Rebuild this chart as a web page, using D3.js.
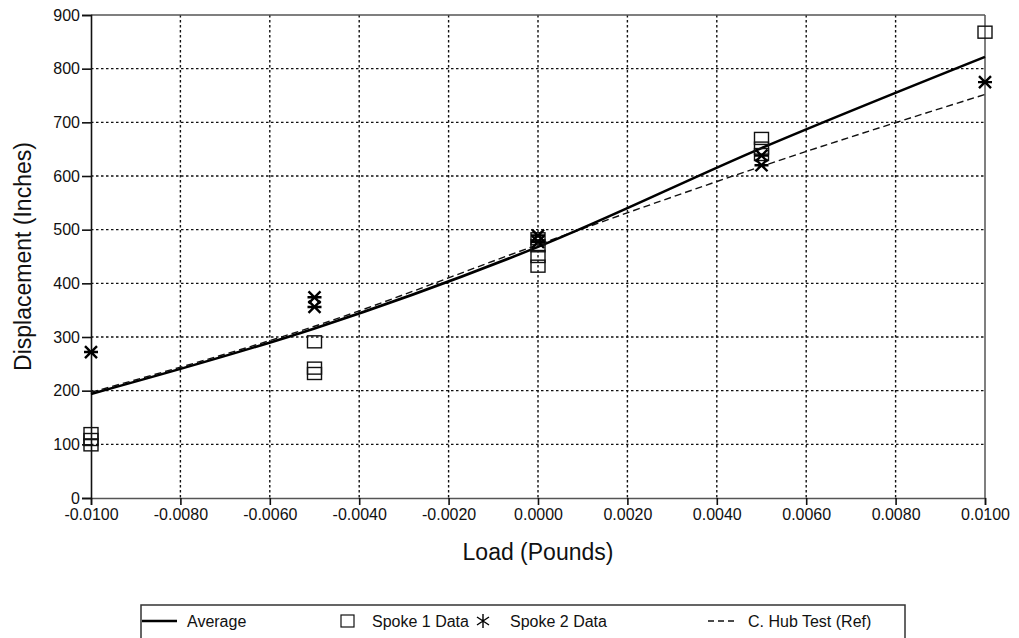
<!DOCTYPE html>
<html>
<head>
<meta charset="utf-8">
<script src="https://cdn.jsdelivr.net/npm/d3@7"></script>
<style>
  body { margin: 0; background: #fff; }
  text { font-family: "Liberation Sans", Arial, sans-serif; fill: #111; }
</style>
</head>
<body>
<div id="chart"></div>
<script>
// data
var loads = [-0.01, -0.005, 0, 0.005, 0.01];
var averageVals = [194, 316, 468, 652, 822];
var hubVals = [197, 320, 472, 618, 752];
var spoke1X = [-0.01, -0.01, -0.01, -0.005, -0.005, -0.005, 0, 0, 0, 0, 0.005, 0.005, 0.005, 0.01];
var spoke1Y = [99, 109, 120, 232, 242, 291, 432, 450, 470, 483, 640, 652, 670, 868];
var spoke2X = [-0.01, -0.005, -0.005, 0, 0, 0.005, 0.005, 0.01];
var spoke2Y = [272, 356, 374, 477, 489, 620, 638, 775];
var xTicks = [-0.01, -0.008, -0.006, -0.004, -0.002, 0, 0.002, 0.004, 0.006, 0.008, 0.01];
var yTicks = [0, 100, 200, 300, 400, 500, 600, 700, 800, 900];
var legendNames = ["Average", "Spoke 1 Data", "Spoke 2 Data", "C. Hub Test (Ref)"];

var W = 1019, H = 638;
var margin = { top: 15, right: 34, bottom: 140, left: 91 },
    width = W - margin.left - margin.right,
    height = H - margin.top - margin.bottom;

var svg = d3.select("#chart").append("svg")
    .attr("width", W)
    .attr("height", H);

var g = svg.append("g")
    .attr("transform", "translate(" + margin.left + "," + margin.top + ")");

var x = d3.scaleLinear().domain([-0.01, 0.01]).range([0, width]);
var y = d3.scaleLinear().domain([0, 900]).range([height, 0]);

// grid
g.selectAll(".vgrid")
    .data(xTicks.slice(1, -1))
  .enter().append("line")
    .attr("x1", function(d) { return x(d); })
    .attr("x2", function(d) { return x(d); })
    .attr("y1", 0).attr("y2", height)
    .attr("stroke", "#111").attr("stroke-width", 1.4)
    .attr("stroke-dasharray", "2.5,2.5");
g.selectAll(".hgrid")
    .data(yTicks.slice(1, -1))
  .enter().append("line")
    .attr("y1", function(d) { return y(d); })
    .attr("y2", function(d) { return y(d); })
    .attr("x1", 0).attr("x2", width)
    .attr("stroke", "#111").attr("stroke-width", 1.4)
    .attr("stroke-dasharray", "2.5,2.5");

// frame top/right
g.append("line").attr("x1", 0).attr("x2", width).attr("y1", 0).attr("y2", 0)
    .attr("stroke", "#555").attr("stroke-width", 1.5);
g.append("line").attr("x1", width).attr("x2", width).attr("y1", 0).attr("y2", height)
    .attr("stroke", "#555").attr("stroke-width", 1.5);

// axes
var fmt = d3.format(".4f");
var xAxis = g.append("g")
    .attr("transform", "translate(0," + height + ")")
    .call(d3.axisBottom(x).tickValues(xTicks)
      .tickFormat(function(d) { return fmt(d).replace("\u2212", "-"); })
      .tickSize(7).tickPadding(4));
var yAxis = g.append("g")
    .call(d3.axisLeft(y).tickValues(yTicks).tickSize(9).tickPadding(2));
[xAxis, yAxis].forEach(function(a) {
  a.select(".domain").attr("stroke", "#111").attr("stroke-width", 1.6);
  a.selectAll(".tick line").attr("stroke", "#111").attr("stroke-width", 1.6);
  a.selectAll("text").style("font-size", "16px").style("font-family", "'Liberation Sans', Arial, sans-serif").attr("fill", "#111");
});
xAxis.select(".domain").attr("stroke", "#555");

// lines
var line = d3.line()
    .x(function(d, i) { return x(loads[i]); })
    .y(function(d) { return y(d); })
    .curve(d3.curveMonotoneX);

g.append("path").datum(hubVals)
    .attr("d", line).attr("fill", "none")
    .attr("stroke", "#111").attr("stroke-width", 1.4)
    .attr("stroke-dasharray", "7,4");
g.append("path").datum(averageVals)
    .attr("d", line).attr("fill", "none")
    .attr("stroke", "#000").attr("stroke-width", 2.6);

// spoke 1: squares
g.selectAll(".sq")
    .data(spoke1Y)
  .enter().append("rect")
    .attr("x", function(d, i) { return x(spoke1X[i]) - 7; })
    .attr("y", function(d) { return y(d) - 6; })
    .attr("width", 14).attr("height", 12)
    .attr("fill", "none").attr("stroke", "#111").attr("stroke-width", 1.4);

// spoke 2: stars
function star(sel, cx, cy) {
  sel.append("path")
    .attr("d", "M" + (cx - 7) + "," + cy + "H" + (cx + 7) +
               "M" + (cx - 6) + "," + (cy - 6) + "L" + (cx + 6) + "," + (cy + 6) +
               "M" + (cx - 6) + "," + (cy + 6) + "L" + (cx + 6) + "," + (cy - 6))
    .attr("stroke", "#000").attr("stroke-width", 2.4).attr("fill", "none");
}
spoke2Y.forEach(function(d, i) { star(g, x(spoke2X[i]), y(d)); });

// axis titles
svg.append("text")
    .attr("x", margin.left + x(0)).attr("y", 560)
    .attr("text-anchor", "middle")
    .style("font-size", "23px")
    .text("Load (Pounds)");
svg.append("text")
    .attr("transform", "translate(31," + (margin.top + height / 2) + ") rotate(-90)")
    .attr("text-anchor", "middle")
    .style("font-size", "23px")
    .text("Displacement (Inches)");

// legend
var lg = svg.append("g");
lg.append("rect")
    .attr("x", 141).attr("y", 605).attr("width", 764).attr("height", 50)
    .attr("fill", "none").attr("stroke", "#333").attr("stroke-width", 1.5);
lg.append("line").attr("x1", 142).attr("x2", 177).attr("y1", 621).attr("y2", 621)
    .attr("stroke", "#000").attr("stroke-width", 2.6);
lg.append("rect").attr("x", 341).attr("y", 615).attr("width", 13).attr("height", 12)
    .attr("fill", "none").attr("stroke", "#111").attr("stroke-width", 1.2);
lg.append("path")
    .attr("d", "M483,614V628M477,617L489,625M477,625L489,617")
    .attr("stroke", "#000").attr("stroke-width", 1.4).attr("fill", "none");
lg.append("line").attr("x1", 708).attr("x2", 738).attr("y1", 621).attr("y2", 621)
    .attr("stroke", "#111").attr("stroke-width", 1.3).attr("stroke-dasharray", "6,4");
var tx = [187, 372, 510, 748];
legendNames.forEach(function(n, i) {
  lg.append("text").attr("x", tx[i]).attr("y", 627)
    .style("font-size", "16px").text(n);
});
</script>
</body>
</html>
